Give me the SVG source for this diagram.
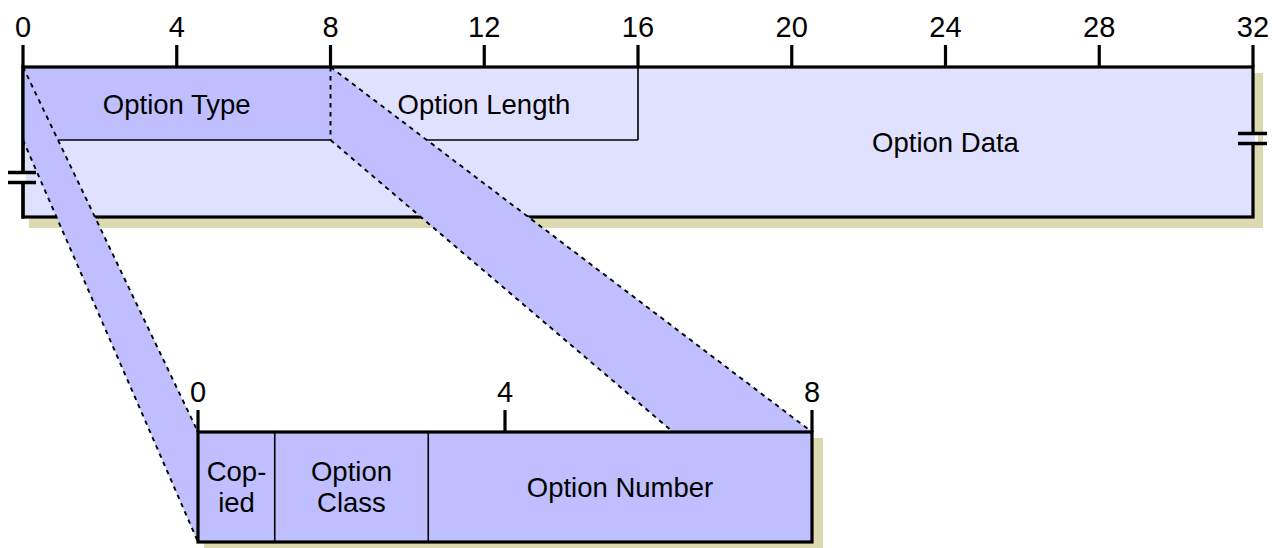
<svg xmlns="http://www.w3.org/2000/svg" width="1283" height="548" viewBox="0 0 1283 548">
<style>
.t{font-family:"Liberation Sans",Arial,sans-serif;font-size:27.5px;fill:#000;text-anchor:middle}
.n{font-size:29px}
.tick{stroke:#000;stroke-width:3.2}
.border{fill:none;stroke:#000;stroke-width:3.2}
.thin{stroke:#000;stroke-width:1.6;fill:none}
.dash{stroke:#000;stroke-width:1.9;stroke-dasharray:4.5 4.5;fill:none}
.shadow{fill:#DCDAB0}
.light{fill:#E0E0FF}
.dark{fill:#BFBFFF}
.brk{stroke:#000;stroke-width:3.5}
</style>
<rect width="1283" height="548" fill="#fff"/>
<g id="ruler-top">
<line class="tick" x1="23" y1="45" x2="23" y2="67"/>
<line class="tick" x1="176.75" y1="45" x2="176.75" y2="67"/>
<line class="tick" x1="330.5" y1="45" x2="330.5" y2="67"/>
<line class="tick" x1="484.25" y1="45" x2="484.25" y2="67"/>
<line class="tick" x1="638" y1="45" x2="638" y2="67"/>
<line class="tick" x1="791.75" y1="45" x2="791.75" y2="67"/>
<line class="tick" x1="945.5" y1="45" x2="945.5" y2="67"/>
<line class="tick" x1="1099.25" y1="45" x2="1099.25" y2="67"/>
<line class="tick" x1="1253" y1="45" x2="1253" y2="67"/>
<text class="t n" x="23" y="37">0</text>
<text class="t n" x="176.75" y="37">4</text>
<text class="t n" x="330.5" y="37">8</text>
<text class="t n" x="484.25" y="37">12</text>
<text class="t n" x="638" y="37">16</text>
<text class="t n" x="791.75" y="37">20</text>
<text class="t n" x="945.5" y="37">24</text>
<text class="t n" x="1099.25" y="37">28</text>
<text class="t n" x="1253" y="37">32</text>
</g>
<g id="option-header">
<rect class="shadow" x="29" y="73" width="1234" height="155"/>
<rect class="light" x="23" y="67" width="1230" height="150"/>
<rect class="dark" x="23" y="67" width="307.5" height="73"/>
<line class="thin" x1="23" y1="140" x2="638" y2="140"/>
<line class="thin" x1="638" y1="67" x2="638" y2="140"/>
<rect class="border" x="23" y="67" width="1230" height="150"/>
<text class="t" x="176.75" y="114">Option Type</text>
<text class="t" x="484" y="114">Option Length</text>
<text class="t" x="945.5" y="152">Option Data</text>
</g>
<g id="connectors">
<polygon class="dark" points="23,67 198,432 198,542 23,140"/>
<polygon class="dark" points="330.5,67 812,432 673,432 330.5,140"/>
<line class="dash" x1="23" y1="67" x2="198" y2="432"/>
<line class="dash" x1="23" y1="140" x2="198" y2="542"/>
<line class="dash" x1="330.5" y1="67" x2="330.5" y2="140"/>
<line class="dash" x1="330.5" y1="67" x2="812" y2="432"/>
<line class="dash" x1="330.5" y1="140" x2="673" y2="432"/>
</g>
<g id="header-left-edge">
<line class="border" x1="23" y1="65.4" x2="23" y2="218.6"/>
</g>
<g id="breaks">
<rect x="20" y="174" width="6" height="7" fill="#fff"/>
<line class="brk" x1="8" y1="172.5" x2="36" y2="172.5"/>
<line class="brk" x1="8" y1="182.5" x2="36" y2="182.5"/>
<rect x="1250" y="135" width="6" height="7" fill="#E0E0FF"/>
<rect x="1255" y="135" width="3" height="7" fill="#fff"/>
<line class="brk" x1="1238" y1="133.5" x2="1267" y2="133.5"/>
<line class="brk" x1="1238" y1="143.5" x2="1267" y2="143.5"/>
</g>
<g id="option-type-detail">
<rect class="shadow" x="204" y="438" width="619" height="115"/>
<rect class="dark" x="198" y="432" width="614" height="110"/>
<line class="thin" x1="274.75" y1="432" x2="274.75" y2="542"/>
<line class="thin" x1="428.25" y1="432" x2="428.25" y2="542"/>
<rect class="border" x="198" y="432" width="614" height="110"/>
<line class="tick" x1="198" y1="410" x2="198" y2="432"/>
<line class="tick" x1="505" y1="410" x2="505" y2="432"/>
<line class="tick" x1="812" y1="410" x2="812" y2="432"/>
<text class="t n" x="198" y="402">0</text>
<text class="t n" x="505" y="402">4</text>
<text class="t n" x="812" y="402">8</text>
<text class="t" x="236.5" y="481">Cop-</text>
<text class="t" x="236.5" y="512">ied</text>
<text class="t" x="351.5" y="481">Option</text>
<text class="t" x="351.5" y="512">Class</text>
<text class="t" x="620" y="497">Option Number</text>
</g>
</svg>
